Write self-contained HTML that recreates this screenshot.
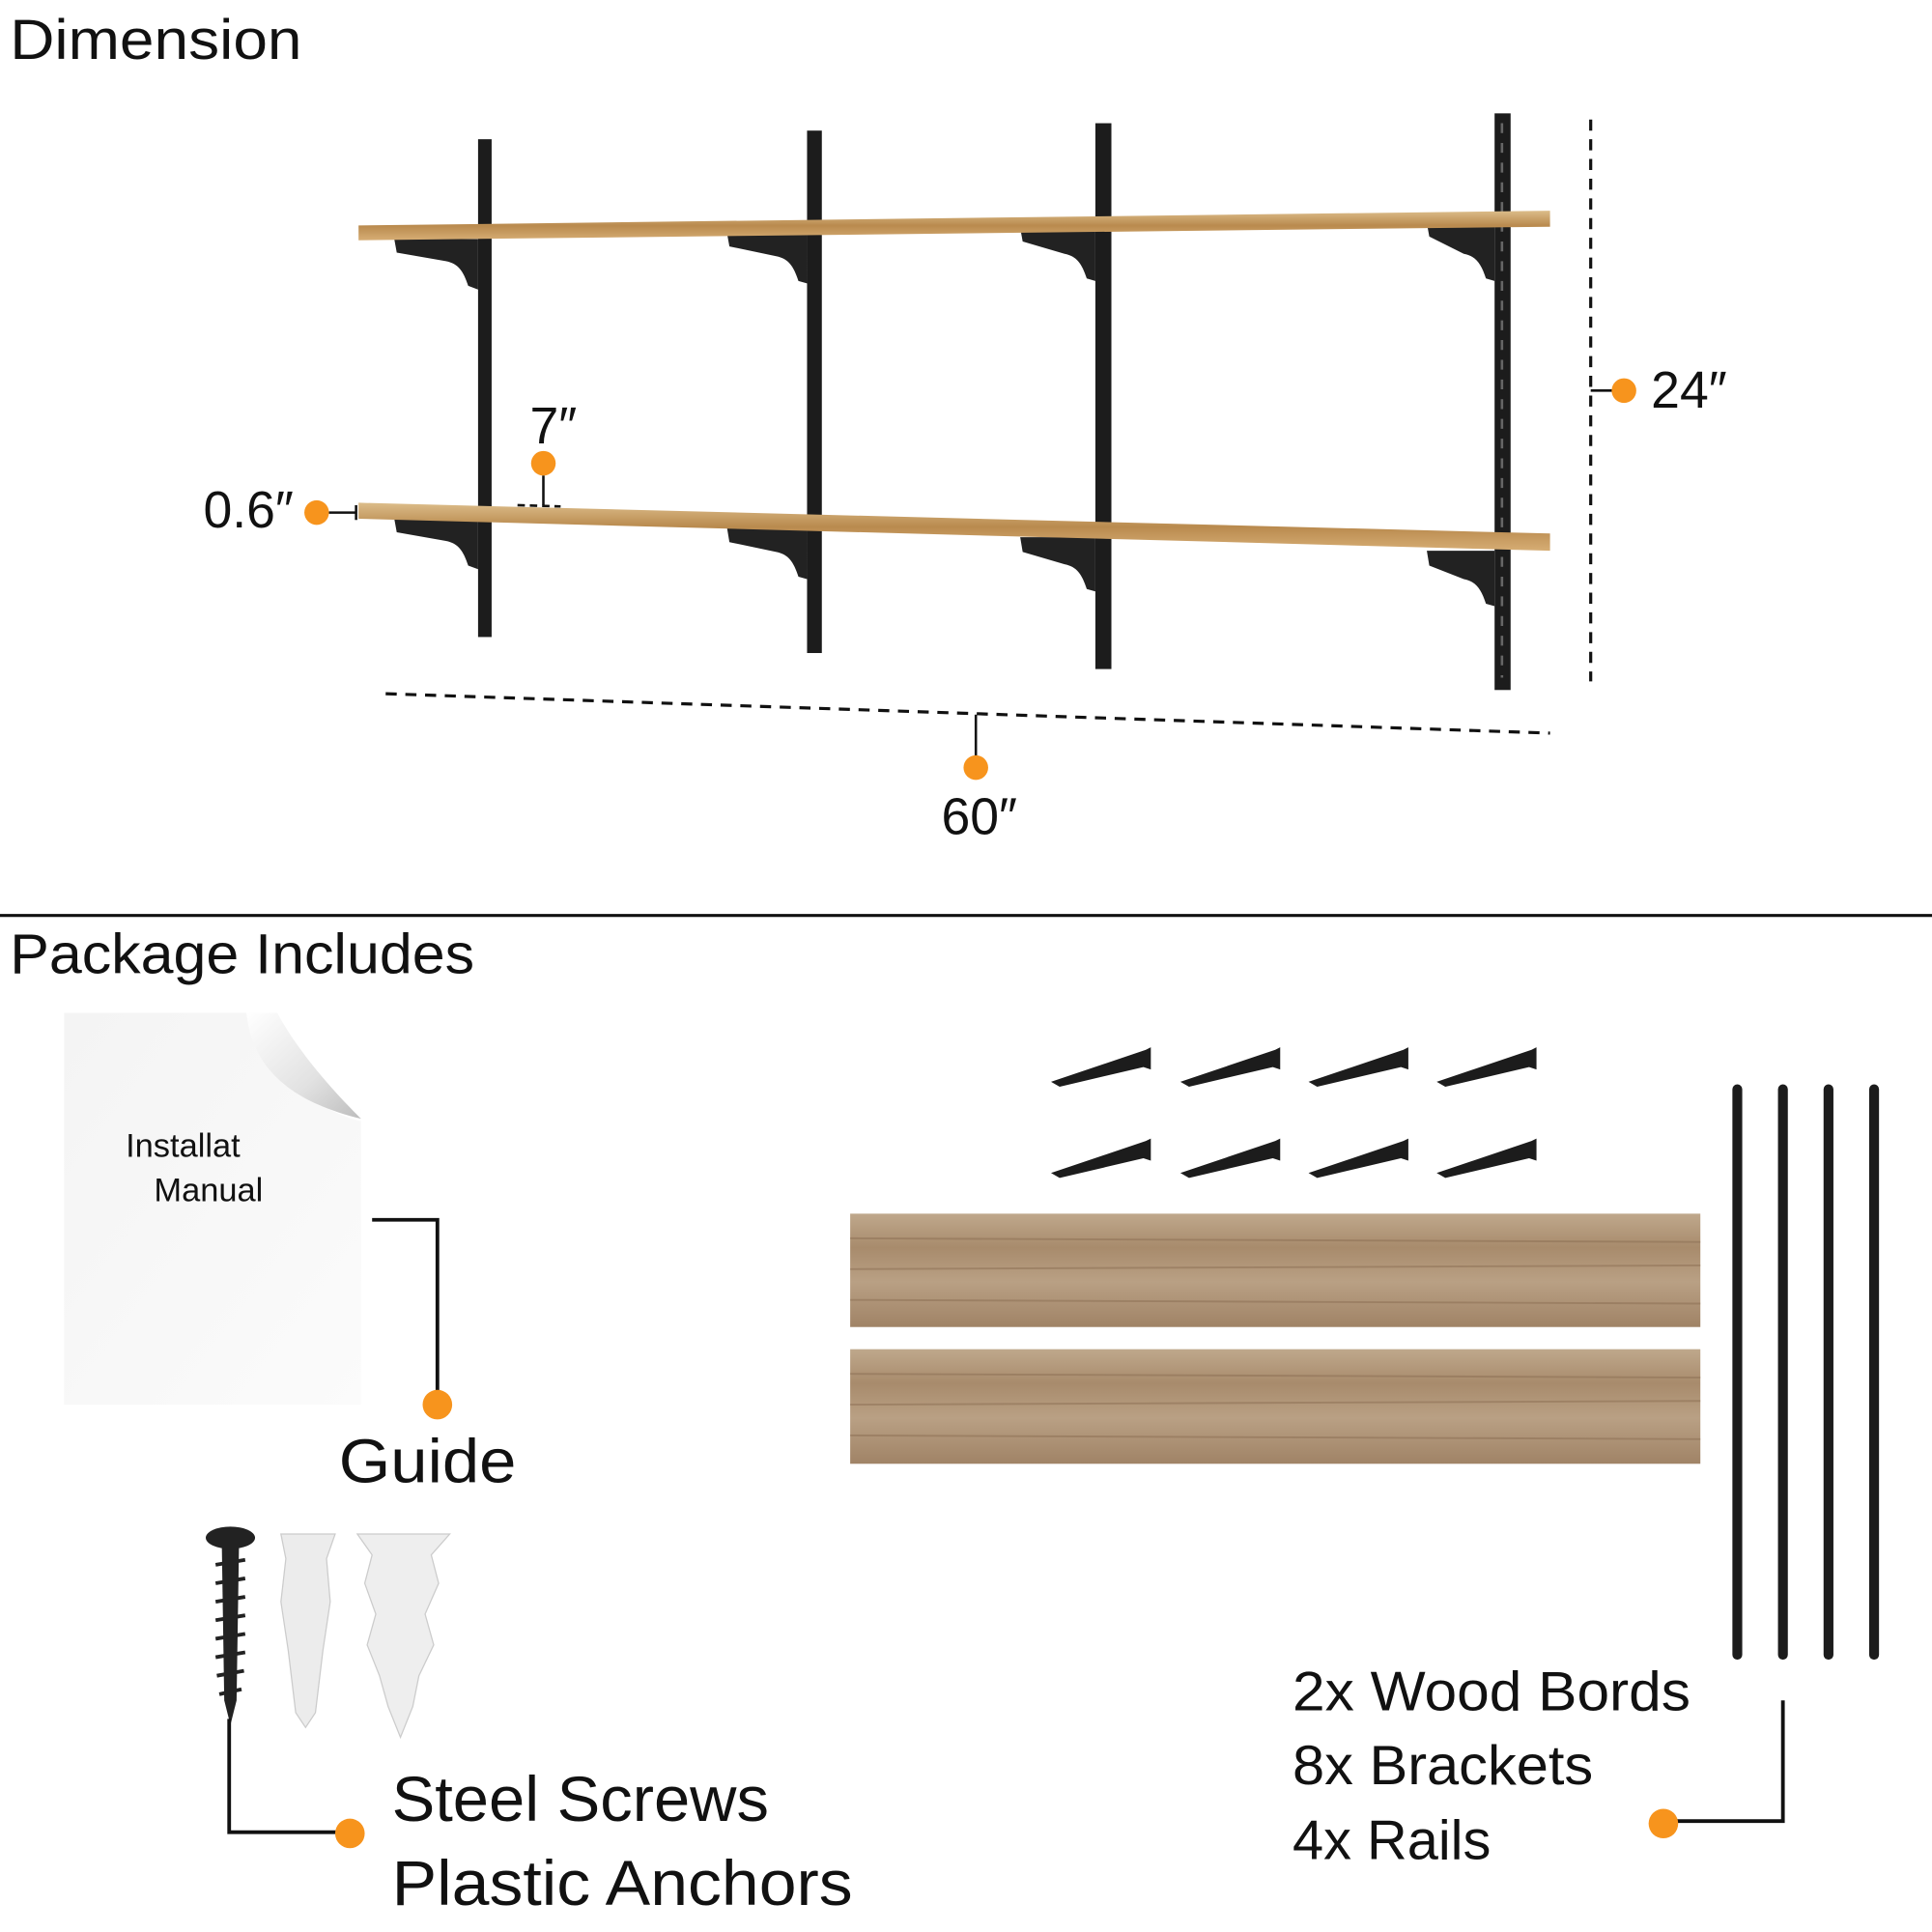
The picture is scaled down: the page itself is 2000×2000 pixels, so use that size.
<!DOCTYPE html>
<html><head><meta charset="utf-8"><style>
html,body{margin:0;padding:0;background:#fff;width:2000px;height:2000px;overflow:hidden}
svg{display:block}
text{font-family:"Liberation Sans","DejaVu Sans",sans-serif;fill:#111}
</style></head><body>
<svg width="2000" height="2000" viewBox="0 0 1568 1568" xmlns="http://www.w3.org/2000/svg">
<defs>
<linearGradient id="wood" x1="0" y1="0" x2="0" y2="1">
<stop offset="0" stop-color="#dcbd8a"/><stop offset="0.5" stop-color="#b98a4e"/><stop offset="1" stop-color="#d6ad74"/>
</linearGradient>
<linearGradient id="board" x1="0" y1="0" x2="0" y2="1">
<stop offset="0" stop-color="#bfa88c"/><stop offset="0.3" stop-color="#a88b6c"/><stop offset="0.6" stop-color="#b9a084"/><stop offset="1" stop-color="#a08366"/>
</linearGradient>
<linearGradient id="paper" x1="0" y1="0" x2="1" y2="1">
<stop offset="0" stop-color="#f4f4f4"/><stop offset="1" stop-color="#fbfbfb"/>
</linearGradient>
<linearGradient id="curl" x1="0" y1="0" x2="1" y2="1">
<stop offset="0" stop-color="#ffffff"/><stop offset="0.6" stop-color="#e2e2e2"/><stop offset="1" stop-color="#bdbdbd"/>
</linearGradient>
</defs>

<text x="8" y="48" font-size="46" textLength="237" lengthAdjust="spacingAndGlyphs">Dimension</text>

<g fill="#1c1c1c">
<rect x="388" y="113" width="11" height="404"/>
<rect x="655" y="106" width="12" height="424"/>
<rect x="889" y="100" width="13" height="443"/>
<rect x="1213" y="92" width="13" height="468"/>
</g>
<g stroke="#666" stroke-width="2" stroke-dasharray="8 8">
<line x1="1219" y1="100" x2="1219" y2="550"/>
</g>

<g fill="#222">
<path d="M320 194 L388 194 L388 235 L380 232 C376 220 372 214 362 212 L322 205 Z"/>
<path d="M590 189 L655 189 L655 230 L648 228 C644 216 640 210 630 208 L592 200 Z"/>
<path d="M828 185 L889 185 L889 228 L882 226 C878 214 874 208 864 206 L830 196 Z"/>
<path d="M1158 181 L1213 181 L1213 228 L1206 226 C1202 214 1198 208 1188 206 L1160 192 Z"/>
<path d="M320 421 L388 421 L388 462 L380 459 C376 447 372 441 362 439 L322 432 Z"/>
<path d="M590 428 L655 428 L655 470 L648 468 C644 456 640 450 630 448 L592 440 Z"/>
<path d="M828 436 L889 436 L889 480 L882 478 C878 466 874 460 864 458 L830 448 Z"/>
<path d="M1158 447 L1213 447 L1213 492 L1206 490 C1202 478 1198 472 1188 470 L1160 459 Z"/>
</g>

<polygon points="291,183 1258,171 1258,184 291,195" fill="url(#wood)"/>
<polygon points="291,408 1258,433 1258,447 291,421" fill="url(#wood)"/>

<line x1="1291" y1="97" x2="1291" y2="553" stroke="#111" stroke-width="2.5" stroke-dasharray="9 7"/>
<line x1="1291" y1="317" x2="1310" y2="317" stroke="#111" stroke-width="2"/>
<circle cx="1318" cy="317" r="10" fill="#f7941d"/>
<text x="1340" y="331" font-size="42">24″</text>

<line x1="313" y1="563" x2="1258" y2="595" stroke="#111" stroke-width="2.5" stroke-dasharray="9 7"/>
<line x1="792" y1="580" x2="792" y2="614" stroke="#111" stroke-width="2"/>
<circle cx="792" cy="623" r="10" fill="#f7941d"/>
<text x="764" y="677" font-size="42">60″</text>

<text x="430" y="360" font-size="42">7″</text>
<circle cx="441" cy="376" r="10" fill="#f7941d"/>
<line x1="441" y1="386" x2="441" y2="410" stroke="#111" stroke-width="2"/>
<line x1="420" y1="410" x2="455" y2="411" stroke="#111" stroke-width="2" stroke-dasharray="6 4"/>

<text x="165" y="428" font-size="42">0.6″</text>
<circle cx="257" cy="416" r="10" fill="#f7941d"/>
<line x1="267" y1="416" x2="289" y2="416" stroke="#111" stroke-width="2"/>
<line x1="289" y1="410" x2="289" y2="422" stroke="#111" stroke-width="2"/>

<line x1="0" y1="743" x2="1568" y2="743" stroke="#111" stroke-width="2.5"/>
<text x="8" y="790" font-size="46" textLength="377" lengthAdjust="spacingAndGlyphs">Package Includes</text>

<path d="M52 822 L200 822 L293 900 L293 1140 L52 1140 Z" fill="url(#paper)"/>
<path d="M200 822 C215 860 250 900 293 910 L293 822 Z" fill="#fff"/>
<path d="M200 822 C205 870 240 895 293 908 C265 880 240 850 225 822 Z" fill="url(#curl)"/>
<text x="102" y="939" font-size="27">Installat</text>
<text x="125" y="975" font-size="27">Manual</text>
<polyline points="302,990 355,990 355,1130" fill="none" stroke="#111" stroke-width="3"/>
<circle cx="355" cy="1140" r="12" fill="#f7941d"/>
<text x="275" y="1203" font-size="50" textLength="144" lengthAdjust="spacingAndGlyphs">Guide</text>

<ellipse cx="187" cy="1248" rx="20" ry="9" fill="#222"/>
<polygon points="180,1252 194,1252 192,1380 187,1400 182,1380" fill="#222"/>
<g stroke="#222" stroke-width="3">
<line x1="175" y1="1270" x2="199" y2="1266"/><line x1="175" y1="1285" x2="199" y2="1281"/><line x1="175" y1="1300" x2="199" y2="1296"/><line x1="175" y1="1315" x2="199" y2="1311"/><line x1="175" y1="1330" x2="199" y2="1326"/><line x1="175" y1="1345" x2="199" y2="1341"/><line x1="176" y1="1360" x2="198" y2="1356"/><line x1="178" y1="1375" x2="196" y2="1371"/>
</g>
<path d="M228 1245 L272 1245 L265 1265 L268 1300 L262 1340 L256 1390 L248 1402 L240 1390 L234 1340 L228 1300 L232 1265 Z" fill="#ececec" stroke="#ccc"/>
<path d="M290 1245 L365 1245 L350 1262 L356 1285 L345 1310 L352 1335 L340 1360 L335 1385 L325 1410 L315 1385 L308 1360 L298 1335 L305 1310 L296 1285 L302 1262 Z" fill="#eeeeee" stroke="#ccc"/>
<polyline points="186,1395 186,1487 274,1487" fill="none" stroke="#111" stroke-width="3"/>
<circle cx="284" cy="1488" r="12" fill="#f7941d"/>
<text x="318" y="1478" font-size="52" textLength="306" lengthAdjust="spacingAndGlyphs">Steel Screws</text>
<text x="318" y="1546" font-size="52" textLength="374" lengthAdjust="spacingAndGlyphs">Plastic Anchors</text>

<g fill="#1c1c1c">
<path d="M853 878 L930 852 L934 850 L934 868 L928 866 L860 882 Z"/>
<path d="M958 878 L1035 852 L1039 850 L1039 868 L1033 866 L965 882 Z"/>
<path d="M1062 878 L1139 852 L1143 850 L1143 868 L1137 866 L1069 882 Z"/>
<path d="M1166 878 L1243 852 L1247 850 L1247 868 L1241 866 L1173 882 Z"/>
<path d="M853 952 L930 926 L934 924 L934 942 L928 940 L860 956 Z"/>
<path d="M958 952 L1035 926 L1039 924 L1039 942 L1033 940 L965 956 Z"/>
<path d="M1062 952 L1139 926 L1143 924 L1143 942 L1137 940 L1069 956 Z"/>
<path d="M1166 952 L1243 926 L1247 924 L1247 942 L1241 940 L1173 956 Z"/>
</g>

<rect x="690" y="985" width="690" height="92" fill="url(#board)"/>
<rect x="690" y="1095" width="690" height="93" fill="url(#board)"/>
<g stroke="#8a6d52" stroke-width="1.5" opacity="0.5">
<line x1="690" y1="1005" x2="1380" y2="1008"/><line x1="690" y1="1030" x2="1380" y2="1027"/><line x1="690" y1="1055" x2="1380" y2="1058"/>
<line x1="690" y1="1115" x2="1380" y2="1118"/><line x1="690" y1="1140" x2="1380" y2="1137"/><line x1="690" y1="1165" x2="1380" y2="1168"/>
</g>

<g stroke="#1c1c1c" stroke-width="8" stroke-linecap="round">
<line x1="1410" y1="884" x2="1410" y2="1343"/>
<line x1="1447" y1="884" x2="1447" y2="1343"/>
<line x1="1484" y1="884" x2="1484" y2="1343"/>
<line x1="1521" y1="884" x2="1521" y2="1343"/>
</g>
<polyline points="1447,1380 1447,1478 1360,1478" fill="none" stroke="#111" stroke-width="3"/>
<circle cx="1350" cy="1480" r="12" fill="#f7941d"/>
<text x="1049" y="1388" font-size="45" textLength="323" lengthAdjust="spacingAndGlyphs">2x Wood Bords</text>
<text x="1049" y="1448" font-size="45" textLength="244" lengthAdjust="spacingAndGlyphs">8x Brackets</text>
<text x="1049" y="1509" font-size="45" textLength="161" lengthAdjust="spacingAndGlyphs">4x Rails</text>
</svg>
</body></html>
